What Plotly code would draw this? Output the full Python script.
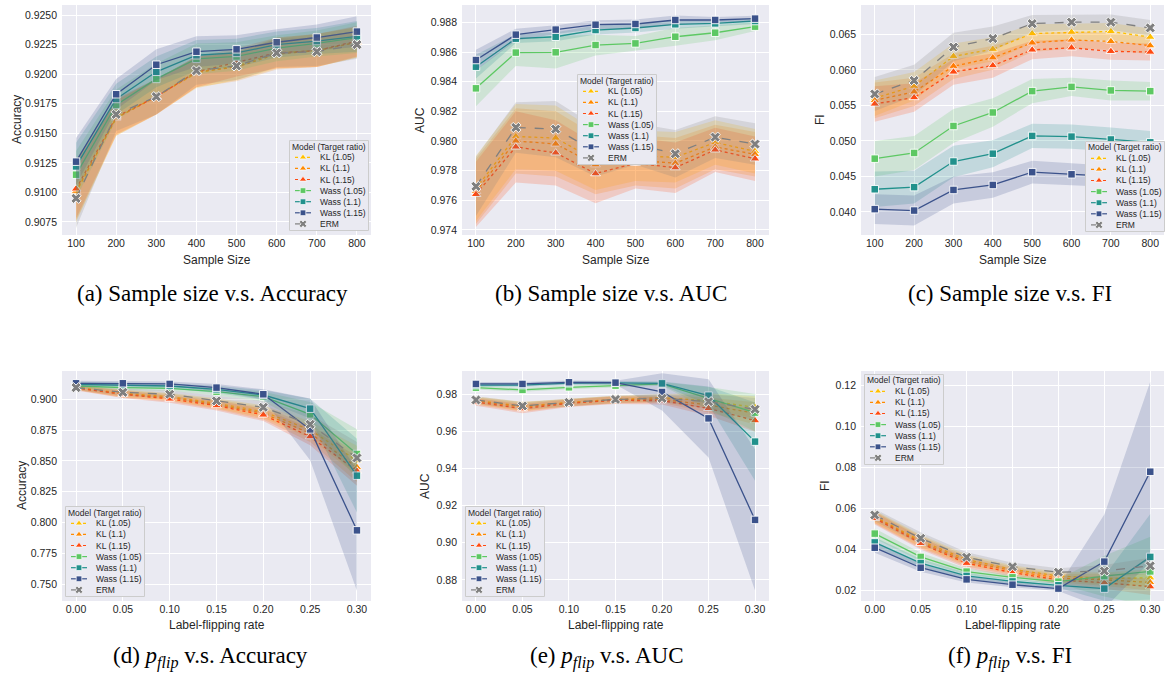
import numpy as np
import plotly.graph_objects as go

W, H = 1166, 674

# ---------------- data ----------------
models = ["KL (1.05)", "KL (1.1)", "KL (1.15)", "Wass (1.05)", "Wass (1.1)", "Wass (1.15)", "ERM"]
colors = ["#FFC000", "#FF8A00", "#FF4A12", "#5DC863", "#21918C", "#3B528B", "#7F7F7F"]
dashes = ["dot", "dot", "dot", "solid", "solid", "solid", "dash"]
symbols = ["triangle-up", "triangle-up", "triangle-up", "square", "square", "square", "x"]

sample_sizes = [100, 200, 300, 400, 500, 600, 700, 800]
flip_rates = [0.00, 0.05, 0.10, 0.15, 0.20, 0.25, 0.30]

# (a) Accuracy vs sample size  (rows follow `models`)
acc_size_mean = [
    [0.9100, 0.9163, 0.9181, 0.9201, 0.9207, 0.9218, 0.9220, 0.9227],
    [0.9101, 0.9163, 0.9181, 0.9202, 0.9206, 0.9217, 0.9220, 0.9227],
    [0.9103, 0.9164, 0.9181, 0.9202, 0.9210, 0.9218, 0.9220, 0.9228],
    [0.9115, 0.9174, 0.9196, 0.9213, 0.9215, 0.9222, 0.9226, 0.9231],
    [0.9122, 0.9179, 0.9202, 0.9216, 0.9218, 0.9225, 0.9228, 0.9232],
    [0.9126, 0.9183, 0.9208, 0.9219, 0.9221, 0.9227, 0.9231, 0.9236],
    [0.9095, 0.9166, 0.9181, 0.9203, 0.9207, 0.9218, 0.9219, 0.9225],
]
acc_size_ci = [
    [0.0025, 0.0015, 0.0015, 0.0013, 0.0012, 0.0013, 0.0014, 0.0013],
    [0.0025, 0.0015, 0.0015, 0.0013, 0.0012, 0.0013, 0.0014, 0.0013],
    [0.0025, 0.0015, 0.0015, 0.0013, 0.0012, 0.0013, 0.0014, 0.0013],
    [0.0020, 0.0013, 0.0013, 0.0013, 0.0012, 0.0011, 0.0011, 0.0013],
    [0.0020, 0.0013, 0.0013, 0.0013, 0.0012, 0.0011, 0.0011, 0.0013],
    [0.0020, 0.0013, 0.0013, 0.0013, 0.0012, 0.0011, 0.0011, 0.0013],
    [0.0025, 0.0014, 0.0015, 0.0012, 0.0012, 0.0012, 0.0012, 0.0012],
]

# (b) AUC vs sample size
auc_size_mean = [
    [0.9768, 0.9803, 0.9802, 0.9787, 0.9790, 0.9789, 0.9799, 0.9793],
    [0.9766, 0.9800, 0.9798, 0.9784, 0.9787, 0.9785, 0.9796, 0.9791],
    [0.9764, 0.9796, 0.9792, 0.9778, 0.9785, 0.9782, 0.9794, 0.9788],
    [0.98355, 0.98596, 0.98598, 0.98647, 0.98658, 0.98703, 0.98730, 0.98771],
    [0.98501, 0.98690, 0.98703, 0.98748, 0.98762, 0.98787, 0.98793, 0.98809],
    [0.98546, 0.98717, 0.98751, 0.98784, 0.98789, 0.98816, 0.98816, 0.98825],
    [0.97694, 0.98091, 0.98080, 0.97930, 0.97979, 0.97914, 0.98026, 0.97979],
]
auc_size_ci = [
    [0.0022, 0.0022, 0.0022, 0.0020, 0.0017, 0.0017, 0.0015, 0.0015],
    [0.0022, 0.0022, 0.0022, 0.0020, 0.0017, 0.0017, 0.0015, 0.0015],
    [0.0022, 0.0024, 0.0022, 0.0020, 0.0017, 0.0017, 0.0015, 0.0015],
    [0.0012, 0.0009, 0.0011, 0.0007, 0.0005, 0.0006, 0.0005, 0.0003],
    [0.0008, 0.0003, 0.0003, 0.0003, 0.0003, 0.0003, 0.0002, 0.0002],
    [0.0007, 0.0004, 0.0003, 0.0003, 0.0003, 0.0003, 0.0002, 0.0002],
    [0.0020, 0.0017, 0.0019, 0.0017, 0.0014, 0.0016, 0.0014, 0.0014],
]

# (c) FI vs sample size
fi_size_mean = [
    [0.0560, 0.0577, 0.0619, 0.0629, 0.0651, 0.0653, 0.0654, 0.0646],
    [0.0557, 0.0569, 0.0605, 0.0617, 0.0638, 0.0642, 0.0640, 0.0634],
    [0.0552, 0.0561, 0.0597, 0.0606, 0.0628, 0.0631, 0.0626, 0.0625],
    [0.0475, 0.0483, 0.0521, 0.0540, 0.0570, 0.0576, 0.0571, 0.0570],
    [0.0432, 0.0435, 0.0471, 0.0482, 0.0507, 0.0506, 0.0502, 0.0498],
    [0.0404, 0.0402, 0.0431, 0.0438, 0.0456, 0.0453, 0.0450, 0.0439],
    [0.0566, 0.0585, 0.0632, 0.0644, 0.0665, 0.0667, 0.0667, 0.0659],
]
fi_size_ci = [
    [0.0025, 0.0020, 0.0018, 0.0017, 0.0013, 0.0012, 0.0012, 0.0012],
    [0.0025, 0.0020, 0.0018, 0.0017, 0.0013, 0.0012, 0.0012, 0.0012],
    [0.0025, 0.0020, 0.0018, 0.0017, 0.0013, 0.0012, 0.0012, 0.0012],
    [0.0025, 0.0024, 0.0024, 0.0020, 0.0017, 0.0013, 0.0014, 0.0013],
    [0.0025, 0.0023, 0.0022, 0.0019, 0.0017, 0.0017, 0.0017, 0.0016],
    [0.0021, 0.0021, 0.0019, 0.0018, 0.0016, 0.0015, 0.0015, 0.0015],
    [0.0024, 0.0022, 0.0020, 0.0017, 0.0012, 0.0011, 0.0011, 0.0011],
]

# (d) Accuracy vs label-flipping rate
acc_flip_mean = [
    [0.9098, 0.9049, 0.9022, 0.8968, 0.8900, 0.8751, 0.8502],
    [0.9095, 0.9043, 0.9014, 0.8959, 0.8886, 0.8724, 0.8448],
    [0.9092, 0.9041, 0.9003, 0.8949, 0.8873, 0.8697, 0.8418],
    [0.9108, 0.9095, 0.9089, 0.9062, 0.9022, 0.8878, 0.8556],
    [0.9122, 0.9116, 0.9108, 0.9081, 0.9035, 0.8924, 0.8380],
    [0.9130, 0.9130, 0.9125, 0.9095, 0.9041, 0.8756, 0.7936],
    [0.9095, 0.9057, 0.9041, 0.8987, 0.8935, 0.8797, 0.8524],
]
acc_flip_ci = [
    [0.002, 0.003, 0.003, 0.004, 0.005, 0.007, 0.012],
    [0.002, 0.003, 0.003, 0.004, 0.005, 0.007, 0.012],
    [0.002, 0.003, 0.003, 0.004, 0.005, 0.007, 0.012],
    [0.002, 0.002, 0.002, 0.003, 0.004, 0.010, 0.020],
    [0.002, 0.002, 0.002, 0.003, 0.004, 0.008, 0.030],
    [0.002, 0.002, 0.002, 0.003, 0.004, 0.025, 0.049],
    [0.002, 0.003, 0.003, 0.004, 0.005, 0.008, 0.013],
]

# (e) AUC vs label-flipping rate
auc_flip_mean = [
    [0.9766, 0.9734, 0.9755, 0.9771, 0.9780, 0.9764, 0.9728],
    [0.9762, 0.9730, 0.9753, 0.9769, 0.9771, 0.9741, 0.9696],
    [0.9757, 0.9721, 0.9750, 0.9766, 0.9764, 0.9723, 0.9657],
    [0.9834, 0.9822, 0.9836, 0.9845, 0.9854, 0.9777, 0.9700],
    [0.9848, 0.9848, 0.9858, 0.9860, 0.9857, 0.9791, 0.9544],
    [0.9854, 0.9854, 0.9863, 0.9861, 0.9811, 0.9669, 0.9123],
    [0.9768, 0.9736, 0.9755, 0.9771, 0.9777, 0.9759, 0.9718],
]
auc_flip_ci = [
    [0.002, 0.0025, 0.002, 0.002, 0.002, 0.004, 0.006],
    [0.002, 0.0025, 0.002, 0.002, 0.002, 0.004, 0.006],
    [0.002, 0.0025, 0.002, 0.002, 0.002, 0.004, 0.006],
    [0.001, 0.001, 0.001, 0.001, 0.001, 0.006, 0.010],
    [0.001, 0.001, 0.001, 0.001, 0.001, 0.005, 0.021],
    [0.001, 0.001, 0.001, 0.001, 0.010, 0.021, 0.038],
    [0.002, 0.002, 0.002, 0.002, 0.002, 0.004, 0.006],
]

# (f) FI vs label-flipping rate
fi_flip_mean = [
    [0.0559, 0.0441, 0.0349, 0.0301, 0.0269, 0.0256, 0.0260],
    [0.0556, 0.0434, 0.0340, 0.0294, 0.0258, 0.0250, 0.0237],
    [0.0551, 0.0428, 0.0331, 0.0285, 0.0249, 0.0236, 0.0216],
    [0.0476, 0.0362, 0.0290, 0.0262, 0.0241, 0.0268, 0.0291],
    [0.0433, 0.0332, 0.0269, 0.0242, 0.0223, 0.0207, 0.0362],
    [0.0407, 0.0309, 0.0252, 0.0226, 0.0207, 0.0339, 0.0779],
    [0.0567, 0.0453, 0.0360, 0.0314, 0.0287, 0.0293, 0.0318],
]
fi_flip_ci = [
    [0.003, 0.003, 0.0025, 0.002, 0.002, 0.003, 0.004],
    [0.003, 0.003, 0.0025, 0.002, 0.002, 0.003, 0.004],
    [0.003, 0.003, 0.0025, 0.002, 0.002, 0.003, 0.004],
    [0.0025, 0.002, 0.0015, 0.0012, 0.0012, 0.010, 0.017],
    [0.0025, 0.002, 0.0015, 0.0012, 0.0012, 0.006, 0.021],
    [0.0025, 0.002, 0.0015, 0.0012, 0.0012, 0.023, 0.044],
    [0.003, 0.003, 0.0025, 0.002, 0.002, 0.003, 0.004],
]

legend_title = "Model (Target ratio)"
x_titles = ["Sample Size", "Sample Size", "Sample Size",
            "Label-flipping rate", "Label-flipping rate", "Label-flipping rate"]
y_titles = ["Accuracy", "AUC", "FI", "Accuracy", "AUC", "FI"]
pflip = "<i>p</i><sub><i>flip</i></sub>"
captions = ["(a) Sample size v.s. Accuracy", "(b) Sample size v.s. AUC", "(c) Sample size v.s. FI",
            f"(d) {pflip} v.s. Accuracy", f"(e) {pflip} v.s. AUC", f"(f) {pflip} v.s. FI"]

# ---------------- layout helpers ----------------
SANS = "Liberation Sans, Arial, sans-serif"
SERIF = "Liberation Serif, Times New Roman, serif"
TXT = "#262626"

panels = [
    dict(x=sample_sizes, mean=acc_size_mean, ci=acc_size_ci, yr=[0.9064, 0.92585], dtick=0.0025, fmt=".4f",
         xr=[65, 835], leg=(289, 140)),
    dict(x=sample_sizes, mean=auc_size_mean, ci=auc_size_ci, yr=[0.97366, 0.98917], dtick=0.002, fmt=".3f",
         xr=[65, 835], leg=(577, 74)),
    dict(x=sample_sizes, mean=fi_size_mean, ci=fi_size_ci, yr=[0.03676, 0.06912], dtick=0.005, fmt=".3f",
         xr=[65, 835], leg=(1085, 141)),
    dict(x=flip_rates, mean=acc_flip_mean, ci=acc_flip_ci, yr=[0.7362, 0.9230], dtick=0.025, fmt=".3f",
         xr=[-0.015, 0.315], leg=(65, 506)),
    dict(x=flip_rates, mean=auc_flip_mean, ci=auc_flip_ci, yr=[0.8687, 0.99237], dtick=0.02, fmt=".2f",
         xr=[-0.015, 0.315], leg=(465, 506)),
    dict(x=flip_rates, mean=fi_flip_mean, ci=fi_flip_ci, yr=[0.01462, 0.1272], dtick=0.02, fmt=".2f",
         xr=[-0.015, 0.315], leg=(864, 374)),
]

col_px = [(62, 371), (462, 769), (861, 1164)]
row_px = [(5, 235), (371, 601)]
ytitle_x = [17, 420, 820]
xtitle_y = [260, 625]
caption_pos = [(212, 293), (611, 293), (1010, 293), (210, 657), (607, 657), (1010, 657)]
LEG_W, LEG_H = 80, 91


def rgba(h, a):
    h = h.lstrip("#")
    return f"rgba({int(h[0:2], 16)},{int(h[2:4], 16)},{int(h[4:6], 16)},{a})"


def msize(sym):
    return {"triangle-up": 8.5, "square": 7.5, "x": 9}[sym]


fig = go.Figure()
layout = dict(width=W, height=H, margin=dict(l=0, r=0, t=0, b=0), paper_bgcolor="white",
              plot_bgcolor="#EAEAF2", showlegend=False, font=dict(family=SANS, color=TXT))
annotations = []

for k, p in enumerate(panels):
    r, c = divmod(k, 3)
    n = k + 1
    xs = "" if n == 1 else str(n)
    xref, yref = "x" + xs, "y" + xs
    xd = [col_px[c][0] / W, col_px[c][1] / W]
    yd = [1 - row_px[r][1] / H, 1 - row_px[r][0] / H]
    xv = list(p["x"])
    for i, m in enumerate(models):
        mean = np.array(p["mean"][i])
        ci = np.array(p["ci"][i])
        fig.add_trace(go.Scatter(
            x=xv + xv[::-1], y=list(mean + ci) + list((mean - ci)[::-1]),
            fill="toself", fillcolor=rgba(colors[i], 0.2), line=dict(width=0),
            mode="lines", hoverinfo="skip", xaxis=xref, yaxis=yref))
        fig.add_trace(go.Scatter(
            x=xv, y=mean, mode="lines+markers", name=m,
            line=dict(color=colors[i], width=1.3, dash=dashes[i]),
            marker=dict(symbol=symbols[i], size=msize(symbols[i]), color=colors[i],
                        line=dict(color="white", width=0.9)),
            xaxis=xref, yaxis=yref))

    xtick = dict(tickvals=xv, ticktext=[str(v) for v in xv]) if k < 3 else dict(dtick=0.05, tickformat=".2f", tick0=0)
    layout["xaxis" + xs] = dict(domain=xd, anchor=yref, range=p["xr"], showgrid=True, gridcolor="white",
                                gridwidth=1.2, zeroline=False, showline=False, ticks="",
                                tickfont=dict(size=10.5, family=SANS, color=TXT), fixedrange=True, **xtick)
    layout["yaxis" + xs] = dict(domain=yd, anchor=xref, range=p["yr"], dtick=p["dtick"], tick0=0,
                                tickformat=p["fmt"], showgrid=True, gridcolor="white", gridwidth=1.2,
                                zeroline=False, showline=False, ticks="", ticklabelstandoff=4,
                                tickfont=dict(size=10.5, family=SANS, color=TXT), fixedrange=True)

    # axis titles
    annotations.append(dict(text=x_titles[k], x=(col_px[c][0] + col_px[c][1]) / 2 / W, y=1 - xtitle_y[r] / H,
                            xref="paper", yref="paper", showarrow=False, xanchor="center", yanchor="middle",
                            font=dict(size=12, family=SANS, color=TXT)))
    annotations.append(dict(text=y_titles[k], x=(ytitle_x[c] + (5 if r == 1 else 0)) / W,
                            y=1 - (row_px[r][0] + row_px[r][1]) / 2 / H,
                            xref="paper", yref="paper", showarrow=False, textangle=-90,
                            xanchor="center", yanchor="middle", font=dict(size=12, family=SANS, color=TXT)))
    # caption
    cx, cy = caption_pos[k]
    annotations.append(dict(text=captions[k], x=cx / W, y=1 - cy / H, xref="paper", yref="paper",
                            showarrow=False, xanchor="center", yanchor="middle",
                            font=dict(size=23, family=SERIF, color="black")))

    # ---- legend drawn in an overlay axis measured in pixels ----
    ln = k + 7
    lxs = str(ln)
    lx, ly = p["leg"]
    layout["xaxis" + lxs] = dict(domain=[lx / W, (lx + LEG_W) / W], anchor="y" + lxs, range=[0, LEG_W],
                                 visible=False, fixedrange=True)
    layout["yaxis" + lxs] = dict(domain=[1 - (ly + LEG_H) / H, 1 - ly / H], anchor="x" + lxs,
                                 range=[LEG_H, 0], visible=False, fixedrange=True)
    fig.add_trace(go.Scatter(x=[0.5, LEG_W - 0.5, LEG_W - 0.5, 0.5, 0.5],
                             y=[0.5, 0.5, LEG_H - 0.5, LEG_H - 0.5, 0.5],
                             mode="lines", fill="toself", fillcolor="rgba(234,234,242,0.85)",
                             line=dict(color="#CCCCCC", width=1), hoverinfo="skip",
                             xaxis="x" + lxs, yaxis="y" + lxs))
    annotations.append(dict(text=legend_title, x=LEG_W / 2, y=6.5, xref="x" + lxs, yref="y" + lxs,
                            showarrow=False, xanchor="center", yanchor="middle",
                            font=dict(size=8.5, family=SANS, color=TXT)))
    for i, m in enumerate(models):
        yy = 17.3 + 11.1 * i
        fig.add_trace(go.Scatter(x=[6, 22], y=[yy, yy], mode="lines",
                                 line=dict(color=colors[i], width=1.2, dash=dashes[i]),
                                 hoverinfo="skip", xaxis="x" + lxs, yaxis="y" + lxs))
        fig.add_trace(go.Scatter(x=[14], y=[yy], mode="markers",
                                 marker=dict(symbol=symbols[i], size=msize(symbols[i]) * 0.75, color=colors[i],
                                             line=dict(color="white", width=0.7)),
                                 hoverinfo="skip", xaxis="x" + lxs, yaxis="y" + lxs))
        annotations.append(dict(text=m, x=29, y=yy, xref="x" + lxs, yref="y" + lxs, showarrow=False,
                                xanchor="left", yanchor="middle", font=dict(size=8.5, family=SANS, color=TXT)))

layout["annotations"] = annotations
fig.update_layout(**layout)
fig.write_html("out.html")
